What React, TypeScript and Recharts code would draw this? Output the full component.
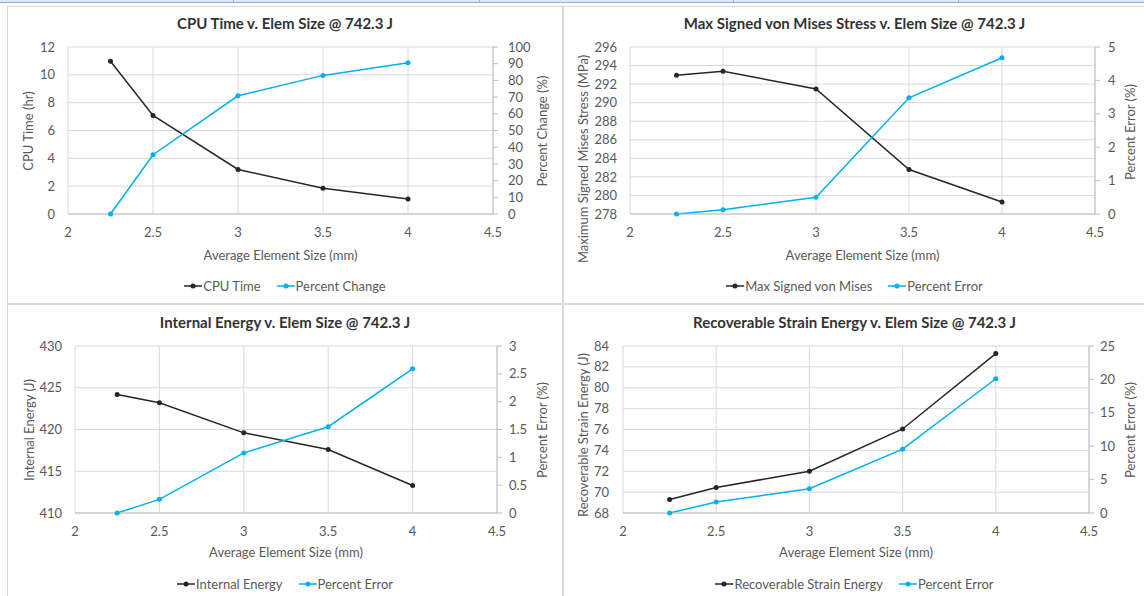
import React from "react";
import { LineChart, Line, XAxis, YAxis, CartesianGrid, Legend } from "recharts";

// ---------- data ----------
const elemSize = [2.25, 2.5, 3, 3.5, 4];
const xTicks = [2, 2.5, 3, 3.5, 4, 4.5];

const cpuTime = [10.97, 7.08, 3.2, 1.85, 1.07];
const cpuPctChange = [0, 35.5, 70.8, 83.0, 90.6];
const cpuLeftTicks = [0, 2, 4, 6, 8, 10, 12];
const cpuRightTicks = [0, 10, 20, 30, 40, 50, 60, 70, 80, 90, 100];

const vonMises = [292.95, 293.38, 291.48, 282.8, 279.3];
const vonMisesPctErr = [0, 0.13, 0.5, 3.48, 4.68];
const vmLeftTicks = [278, 280, 282, 284, 286, 288, 290, 292, 294, 296];
const vmRightTicks = [0, 1, 2, 3, 4, 5];

const internalEnergy = [424.2, 423.2, 419.6, 417.6, 413.3];
const internalPctErr = [0, 0.245, 1.08, 1.55, 2.59];
const ieLeftTicks = [410, 415, 420, 425, 430];
const ieRightTicks = [0, 0.5, 1, 1.5, 2, 2.5, 3];

const strainEnergy = [69.3, 70.45, 72.0, 76.05, 83.27];
const strainPctErr = [0, 1.65, 3.64, 9.55, 20.1];
const seLeftTicks = [68, 70, 72, 74, 76, 78, 80, 82, 84];
const seRightTicks = [0, 5, 10, 15, 20, 25];

const FONT = "Lato, 'Open Sans', sans-serif";
const BLACK = "#262626";
const CYAN = "#00b0f0";
const TXT = "#595959";

type Box = { left: number; top: number; width: number; height: number };
type Plot = { left: number; right: number; top: number; bottom: number };

interface PanelCfg {
  title: string;
  chart: Box;
  plot: Plot;
  titleY: number;
  xTitleY: number;
  legendY: number;
  leftTitle: [number, number];
  rightTitle: [number, number];
  leftLabel: string;
  rightLabel: string;
  nameA: string;
  nameB: string;
  leftTicks: number[];
  rightTicks: number[];
  a: number[];
  b: number[];
  leftGap: number;
  rightMargin: number;
}

const panels: PanelCfg[] = [
  {
    title: "CPU Time v. Elem Size @ 742.3 J",
    chart: { left: 7, top: 6, width: 556, height: 297 },
    plot: { left: 68, right: 493, top: 47, bottom: 214 },
    titleY: 23, xTitleY: 255, legendY: 286,
    leftTitle: [28, 131], rightTitle: [542, 131],
    leftLabel: "CPU Time  (hr)", rightLabel: "Percent Change (%)",
    nameA: "CPU Time", nameB: "Percent Change",
    leftTicks: cpuLeftTicks, rightTicks: cpuRightTicks,
    a: cpuTime, b: cpuPctChange, leftGap: 13, rightMargin: 10,
  },
  {
    title: "Max Signed von Mises Stress v. Elem Size @ 742.3 J",
    chart: { left: 565, top: 6, width: 579, height: 297 },
    plot: { left: 630, right: 1095, top: 47, bottom: 214 },
    titleY: 23, xTitleY: 255, legendY: 286,
    leftTitle: [583, 159], rightTitle: [1130, 132],
    leftLabel: "Maximum Signed Mises Stress (MPa)", rightLabel: "Percent Error (%)",
    nameA: "Max Signed von Mises", nameB: "Percent Error",
    leftTicks: vmLeftTicks, rightTicks: vmRightTicks,
    a: vonMises, b: vonMisesPctErr, leftGap: 13, rightMargin: 8,
  },
  {
    title: "Internal Energy v. Elem Size @ 742.3 J",
    chart: { left: 7, top: 304, width: 556, height: 292 },
    plot: { left: 75, right: 497, top: 346, bottom: 513 },
    titleY: 322, xTitleY: 552, legendY: 584,
    leftTitle: [29, 430], rightTitle: [542, 430],
    leftLabel: "Internal Energy (J)", rightLabel: "Percent Error (%)",
    nameA: "Internal Energy", nameB: "Percent Error",
    leftTicks: ieLeftTicks, rightTicks: ieRightTicks,
    a: internalEnergy, b: internalPctErr, leftGap: 13, rightMargin: 7,
  },
  {
    title: "Recoverable Strain Energy v. Elem Size @ 742.3 J",
    chart: { left: 565, top: 304, width: 579, height: 292 },
    plot: { left: 623, right: 1089, top: 346, bottom: 513 },
    titleY: 322, xTitleY: 552, legendY: 584,
    leftTitle: [583, 435], rightTitle: [1130, 430],
    leftLabel: "Recoverable Strain Energy (J)", rightLabel: "Percent Error (%)",
    nameA: "Recoverable Strain Energy", nameB: "Percent Error",
    leftTicks: seLeftTicks, rightTicks: seRightTicks,
    a: strainEnergy, b: strainPctErr, leftGap: 14, rightMargin: 6,
  },
];

const LegendIcon = ({ color }: { color: string }) => (
  <svg width={18} height={10} style={{ display: "block" }}>
    <line x1={0} y1={5} x2={18} y2={5} stroke={color} strokeWidth={1.5} />
    <circle cx={9} cy={5} r={2.5} fill={color} />
  </svg>
);

function Panel({ cfg }: { cfg: PanelCfg }) {
  const { chart, plot } = cfg;
  const leftW = plot.left - chart.left;
  const rightW = chart.left + chart.width - plot.right;
  const topM = plot.top - chart.top;
  const below = chart.top + chart.height - plot.bottom;
  const xAxisH = 50;
  const legendH = below - xAxisH;
  const legendCenter = cfg.legendY - (chart.top + chart.height - legendH);
  const data = elemSize.map((x, i) => ({ x, a: cfg.a[i], b: cfg.b[i] }));
  const plotCx = (plot.left + plot.right) / 2 - chart.left;

  const tickStyle = { fill: TXT, fontSize: 13, fontFamily: FONT };

  const vText = (text: string, px: number, py: number, angle: number) => () => {
    const cx = px - chart.left;
    const cy = py - chart.top;
    return (
      <text
        x={cx}
        y={cy}
        transform={`rotate(${angle}, ${cx}, ${cy})`}
        textAnchor="middle"
        dominantBaseline="central"
        fill={TXT}
        fontSize={13}
        fontFamily={FONT}
      >
        {text}
      </text>
    );
  };

  const xLabel = () => (
    <text
      x={plotCx}
      y={cfg.xTitleY - chart.top}
      textAnchor="middle"
      dominantBaseline="central"
      fill={TXT}
      fontSize={13}
      fontFamily={FONT}
    >
      Average Element Size (mm)
    </text>
  );

  const renderLegend = () => (
    <div style={{ position: "relative", height: legendH, width: "100%" }}>
      <div
        style={{
          position: "absolute",
          left: 0,
          right: 0,
          top: legendCenter - 8,
          height: 16,
          display: "flex",
          justifyContent: "center",
          alignItems: "center",
          gap: 16,
          fontFamily: FONT,
          fontSize: 13,
          color: TXT,
        }}
      >
        <div style={{ display: "flex", alignItems: "center", gap: 1 }}>
          <LegendIcon color={BLACK} />
          <span>{cfg.nameA}</span>
        </div>
        <div style={{ display: "flex", alignItems: "center", gap: 1 }}>
          <LegendIcon color={CYAN} />
          <span>{cfg.nameB}</span>
        </div>
      </div>
    </div>
  );

  const lt = cfg.leftTicks;
  const rt = cfg.rightTicks;

  return (
    <div
      style={{
        position: "absolute",
        left: chart.left,
        top: chart.top,
        width: chart.width,
        height: chart.height,
      }}
    >
      <div
        style={{
          position: "absolute",
          left: 0,
          width: chart.width,
          top: cfg.titleY - chart.top - 10,
          height: 20,
          lineHeight: "20px",
          textAlign: "center",
          fontFamily: FONT,
          fontWeight: 700,
          fontSize: 15,
          color: "#333333",
          zIndex: 2,
        }}
      >
        {cfg.title}
      </div>
      <LineChart
        width={chart.width}
        height={chart.height}
        data={data}
        margin={{ top: topM, right: 0, bottom: 0, left: 0 }}
      >
        <CartesianGrid stroke="#d9d9d9" strokeWidth={1} yAxisId="l" />
        <XAxis
          dataKey="x"
          type="number"
          domain={[2, 4.5]}
          ticks={xTicks}
          interval={0}
          height={xAxisH}
          axisLine={{ stroke: "#bfbfbf" }}
          tickLine={false}
          tickSize={0}
          tickMargin={14}
          tick={tickStyle}
          label={xLabel}
        />
        <YAxis
          yAxisId="l"
          orientation="left"
          type="number"
          width={leftW}
          domain={[lt[0], lt[lt.length - 1]]}
          ticks={lt}
          interval={0}
          axisLine={false}
          tickLine={false}
          tickSize={0}
          tickMargin={cfg.leftGap}
          tick={tickStyle}
          label={vText(cfg.leftLabel, cfg.leftTitle[0], cfg.leftTitle[1], -90)}
        />
        <YAxis
          yAxisId="r"
          orientation="right"
          type="number"
          width={rightW}
          domain={[rt[0], rt[rt.length - 1]]}
          ticks={rt}
          interval={0}
          axisLine={{ stroke: "#bfbfbf" }}
          tickLine={{ stroke: "#bfbfbf" }}
          tickSize={5}
          tickMargin={cfg.rightMargin}
          tick={tickStyle}
          label={vText(cfg.rightLabel, cfg.rightTitle[0], cfg.rightTitle[1], -90)}
        />
        <Legend
          verticalAlign="bottom"
          align="center"
          height={legendH}
          wrapperStyle={{ height: legendH }}
          content={renderLegend}
        />
        <Line
          yAxisId="l"
          dataKey="a"
          name={cfg.nameA}
          stroke={BLACK}
          strokeWidth={1.5}
          dot={{ r: 2.5, fill: BLACK, stroke: BLACK, strokeWidth: 0 }}
          activeDot={false}
          isAnimationActive={false}
        />
        <Line
          yAxisId="r"
          dataKey="b"
          name={cfg.nameB}
          stroke={CYAN}
          strokeWidth={1.5}
          dot={{ r: 2.5, fill: CYAN, stroke: CYAN, strokeWidth: 0 }}
          activeDot={false}
          isAnimationActive={false}
        />
      </LineChart>
    </div>
  );
}

export default function App() {
  const seps = [233, 479, 733, 958];
  return (
    <div
      style={{
        position: "absolute",
        left: 0,
        top: 0,
        width: 1144,
        height: 596,
        background: "#ffffff",
        overflow: "hidden",
      }}
    >
      {/* spreadsheet header strip */}
      <div
        style={{
          position: "absolute",
          left: 0,
          top: 0,
          width: 1144,
          height: 2,
          background: "#dde7f5",
          borderBottom: "1px solid #8fb0e0",
        }}
      />
      {seps.map((x) => (
        <div
          key={x}
          style={{ position: "absolute", left: x, top: 0, width: 1, height: 3, background: "#8fb0e0" }}
        />
      ))}
      {/* panel borders */}
      <div style={{ position: "absolute", left: 7, top: 6, width: 1137, height: 1, background: "#d9d9d9" }} />
      <div style={{ position: "absolute", left: 7, top: 6, width: 1, height: 590, background: "#d9d9d9" }} />
      <div style={{ position: "absolute", left: 562, top: 6, width: 2, height: 590, background: "#d9d9d9" }} />
      <div style={{ position: "absolute", left: 7, top: 303, width: 1137, height: 2, background: "#d9d9d9" }} />
      {panels.map((p, i) => (
        <Panel key={i} cfg={p} />
      ))}
    </div>
  );
}
